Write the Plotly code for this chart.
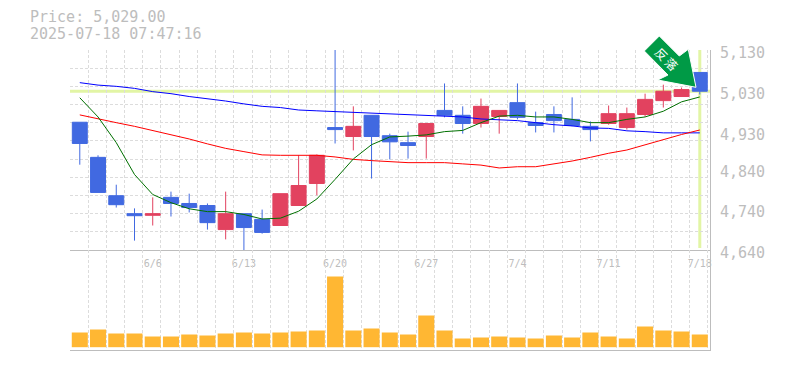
import plotly.graph_objects as go
from plotly.subplots import make_subplots

dates = ["6/2","6/3","6/4","6/5","6/6","6/9","6/10","6/11","6/12","6/13","6/16","6/17","6/18","6/19","6/20",
         "6/23","6/24","6/25","6/26","6/27","6/30","7/1","7/2","7/3","7/4","7/7","7/8","7/9","7/10","7/11",
         "7/14","7/15","7/16","7/17","7/18"]
opens = [4953,4867,4773,4729,4725,4769,4754,4749,4690,4729,4715,4700,4749,4803,4940,
         4918,4970,4920,4903,4918,4982,4970,4950,4967,5001,4952,4972,4960,4943,4950,
         4940,4972,5006,5016,5075]
highs = [4953,4872,4800,4742,4769,4783,4778,4754,4783,4729,4739,4778,4872,4874,5130,
         4992,4970,4925,4930,4950,5048,4992,5011,4982,5048,4979,4992,5014,4955,4994,
         4989,5023,5045,5038,5075]
lows =  [4849,4781,4744,4663,4700,4722,4732,4690,4666,4640,4680,4700,4749,4774,4901,
         4884,4815,4862,4864,4864,4965,4925,4940,4925,4960,4928,4928,4943,4906,4947,
         4935,4967,4989,5016,5021]
closes= [4901,4781,4751,4724,4729,4754,4744,4707,4729,4695,4683,4778,4798,4872,4935,
         4943,4918,4905,4896,4950,4970,4950,4992,4982,4965,4945,4957,4945,4935,4974,
         4974,5009,5029,5033,5029]
ma_short = [5013,4966,4903,4825,4776,4756,4741,4734,4734,4727,4716,4718,4735,4765,4813,4863,4898,4917,
            4919,4922,4930,4933,4952,4968,4970,4966,4966,4960,4952,4952,4960,4966,4980,5003,5015]
ma_mid = [5050,5044,5041,5036,5028,5023,5016,5011,5005,4998,4992,4989,4983,4981,4979,4978,4975,4974,
          4972,4969,4967,4966,4961,4959,4957,4952,4947,4944,4939,4938,4932,4930,4927,4927,4927]
ma_long = [4971,4961,4952,4943,4933,4923,4912,4900,4889,4881,4873,4872,4872,4872,4868,4862,4859,4857,
           4854,4854,4854,4851,4848,4841,4844,4844,4851,4858,4867,4877,4885,4898,4910,4923,4934]
volumes = [14.7,17.7,13.7,13.7,10.7,10.7,12.7,11.7,13.7,14.7,13.7,14.7,15.7,16.7,70.7,16.7,18.7,14.7,
           12.7,31.7,16.7,8.7,9.7,10.7,9.7,8.7,11.7,9.7,14.7,10.7,8.7,20.7,16.7,15.7,12.7]
label_idx = [4,9,14,19,24,29,34]
price_ticks = [5130,5030,4930,4840,4740,4640]
current_price = 5029
title_lines = ["Price: 5,029.00", "2025-07-18 07:47:16"]
arrow_glyphs = ["反", "落"]

FONT = "DejaVu Sans Mono"
GRAY = "#bdbdbd"
GRID = "#dcdcdc"
xs = list(range(len(dates)))

fig = make_subplots(rows=2, cols=1, shared_xaxes=True, vertical_spacing=0, row_heights=[2/3, 1/3])

fig.add_trace(go.Candlestick(x=xs, open=opens, high=highs, low=lows, close=closes,
    increasing=dict(line=dict(color="#E2425F", width=1), fillcolor="#E2425F"),
    decreasing=dict(line=dict(color="#4169E1", width=1), fillcolor="#4169E1"),
    whiskerwidth=0, showlegend=False), row=1, col=1)
for vals, col in [(ma_mid, "#0000FF"), (ma_long, "#FF0000"), (ma_short, "#007000")]:
    fig.add_trace(go.Scatter(x=xs, y=vals, mode="lines", line=dict(color=col, width=1),
                             showlegend=False), row=1, col=1)
fig.add_trace(go.Bar(x=xs, y=volumes, marker=dict(color="#FFB733", line=dict(width=0)),
                     width=0.88, showlegend=False), row=2, col=1)

xr = [-0.537, 34.56]
grid_common = dict(griddash="3px,2px", gridcolor=GRID, gridwidth=1, showgrid=True)
fig.update_xaxes(range=xr, rangeslider_visible=False, showgrid=False, zeroline=False, automargin=False,
                 minor=dict(tick0=-0.55, dtick=1, ticks="", **grid_common))
fig.update_xaxes(row=1, col=1, showline=True, linecolor=GRAY, linewidth=1, ticks="",
                 tickmode="array", tickvals=label_idx, ticktext=[dates[i] for i in label_idx],
                 showticklabels=True, tickfont=dict(family=FONT, size=10, color=GRAY),
                 ticklabeloverflow="allow", ticklabelstandoff=4)
fig.update_xaxes(row=2, col=1, showline=True, linecolor=GRAY, linewidth=1, showticklabels=False, ticks="")
step = (5130 - 4640) / 11
fig.update_yaxes(row=1, col=1, range=[4640, 5130], side="right", showline=True, linecolor=GRAY, linewidth=1,
                 showgrid=False, zeroline=False, ticks="", tickmode="array", tickvals=price_ticks, automargin=False,
                 ticktext=[f"{v:,}" for v in price_ticks], ticklabelshift=3,
                 tickfont=dict(family=FONT, size=15, color=GRAY), ticklabelstandoff=6,
                 minor=dict(tick0=4640, dtick=step, ticks="", **grid_common))
fig.update_yaxes(row=2, col=1, range=[-2.8, 97.2], side="right", showline=True, linecolor=GRAY, linewidth=1,
                 showgrid=False, zeroline=False, showticklabels=False, ticks="", automargin=False)

hl = "#E2F5A5"
fig.add_shape(type="line", xref="x domain", x0=0, x1=1, yref="y", y0=current_price, y1=current_price,
              line=dict(color=hl, width=3), layer="below")
fig.add_shape(type="line", xref="x", x0=xs[-1], x1=xs[-1], yref="y domain", y0=0.01, y1=1,
              line=dict(color=hl, width=3), layer="below")

# page-pixel helper for the decorations outside the data scales
def px(x, y):
    return (x - 70) / 640, 1 - (y - 50) / 300
arrow = [(659.3,36),(679.3,56),(688.3,49.3),(696,87.3),(657.7,80),(668,75),(644.3,51)]
path = "M " + " L ".join("{:.5f},{:.5f}".format(*px(*p)) for p in arrow) + " Z"
fig.add_shape(type="path", xref="paper", yref="paper", path=path, fillcolor="#009A46",
              line=dict(color="#ffffff", width=1), layer="above")
for glyph, (gx, gy) in zip(arrow_glyphs, [(661.7, 53.3), (671.7, 63.3)]):
    ax, ay = px(gx, gy)
    fig.add_annotation(xref="paper", yref="paper", x=ax, y=ay, text=glyph, textangle=45, showarrow=False,
                       xanchor="center", yanchor="middle", borderpad=0,
                       font=dict(family="Noto Sans CJK JP", size=12, color="#ffffff"))
for line, yy in zip(title_lines, [17, 34]):
    tx, ty = px(27.5, yy)
    fig.add_annotation(xref="paper", yref="paper", x=tx, y=ty, xanchor="left", yanchor="middle",
                       text=line, showarrow=False, font=dict(family=FONT, size=15, color=GRAY))

fig.update_layout(width=785, height=370, margin=dict(l=70, r=75, t=50, b=20, autoexpand=False), boxgap=0.18, boxgroupgap=0,
                  paper_bgcolor="white", plot_bgcolor="white", bargap=0.12, showlegend=False)
fig.write_html("out.html", config=dict(displayModeBar=False), post_script="document.body.style.margin='0';")
